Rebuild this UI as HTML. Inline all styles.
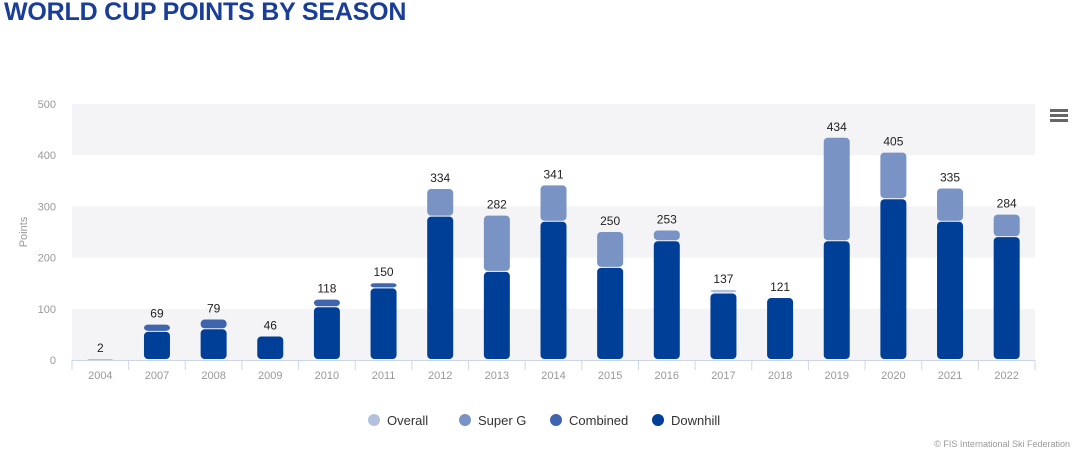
<!DOCTYPE html>
<html><head><meta charset="utf-8"><style>
body{margin:0;width:1080px;height:455px;background:#fff;font-family:"Liberation Sans",sans-serif;overflow:hidden}
#title{position:absolute;left:4px;top:-2px;font-size:25px;font-weight:bold;color:#1a3e97;letter-spacing:-0.2px}
svg{position:absolute;left:0;top:0}
</style></head><body>
<div id="title">WORLD CUP POINTS BY SEASON</div>
<svg id="chart" width="1080" height="455"></svg>
<script>
const categories=["2004","2007","2008","2009","2010","2011","2012","2013","2014","2015","2016","2017","2018","2019","2020","2021","2022"];
const downhill=[0,55,60,46,103,140,280,172,270,180,232,130,121,232,314,270,240];
const combined=[0,14,19,0,15,10,0,0,0,0,0,0,0,0,0,0,0];
const superG=[0,0,0,0,0,0,54,110,71,70,21,0,0,202,91,65,44];
const overall=[2,0,0,0,0,0,0,0,0,0,0,7,0,0,0,0,0];
const totals=[2,69,79,46,118,150,334,282,341,250,253,137,121,434,405,335,284];
const yTicks=[0,100,200,300,400,500];
const NS="http://www.w3.org/2000/svg";
const svg=document.getElementById('chart');
const x0=72,x1=1035,y0=360,y1=104;
const bw=(x1-x0)/categories.length;
const y=v=>y0-(v/500)*(y0-y1);
const xc=i=>x0+bw*(i+0.5);
function mk(t,a,p){const e=document.createElementNS(NS,t);for(const k in a)e.setAttribute(k,a[k]);(p||svg).appendChild(e);return e;}
for(let i=0;i<yTicks.length-1;i+=2){
 const b=mk('rect',{x:x0,y:y(yTicks[i+1]),width:x1-x0,height:y(yTicks[i])-y(yTicks[i+1]),fill:'#f4f4f6'});
 
 
}
yTicks.forEach(t=>{
 const l=mk('text',{x:56,y:y(t)+4,'text-anchor':'end','font-size':11,fill:'#999'});l.textContent=t;
 
 
});
const yt=mk('text',{x:27,y:232,'text-anchor':'middle','font-size':11,fill:'#999',transform:'rotate(-90 27 232)'});yt.textContent='Points';


const ax=mk('line',{x1:x0,x2:x1,y1:y0+0.5,y2:y0+0.5,stroke:'#ccd6eb'});


for(let i=0;i<=categories.length;i++){mk('line',{x1:x0+bw*i,x2:x0+bw*i,y1:y0,y2:y0+10,stroke:'#ccd6eb'});}
const series=[[downhill,'#003f98','downhill'],[combined,'#3f65ae','combined'],[superG,'#7893c4','super-g'],[overall,'#b3c1de','overall']];
categories.forEach((c,i)=>{
 let base=0;
 series.forEach(([arr,col,n])=>{
  const v=arr[i];if(v<=0)return;
  const top=y(base+v),bot=y(base);
  const r=mk('rect',{x:xc(i)-13,y:top,width:26,height:Math.max(bot-top-1,1),rx:4,fill:col});
  
  
  base+=v;
 });
 const t=mk('text',{x:xc(i),y:y(totals[i])-7,'text-anchor':'middle','font-size':12,fill:'#222'});t.textContent=totals[i];
 
 
 const l=mk('text',{x:xc(i),y:379,'text-anchor':'middle','font-size':11,fill:'#999'});l.textContent=c;
 
 
});
const leg=[['Overall','#b3c1de',367],['Super G','#7893c4',458],['Combined','#3f65ae',549],['Downhill','#003f98',651]];
leg.forEach(([n,c,lx])=>{
 const g=mk('g',{});
 
 
 mk('circle',{cx:lx+7,cy:420,r:6,fill:c},g);
 const t=mk('text',{x:lx+20,y:425,'font-size':13,fill:'#333'},g);t.textContent=n;
});
const menu=mk('g',{});


[109,114,119].forEach(yy=>mk('rect',{x:1050,y:yy,width:18,height:3,fill:'#666'},menu));
const cr=mk('text',{x:1070,y:447,'text-anchor':'end','font-size':9,fill:'#999'});cr.textContent='© FIS International Ski Federation';


</script>
</body></html>
